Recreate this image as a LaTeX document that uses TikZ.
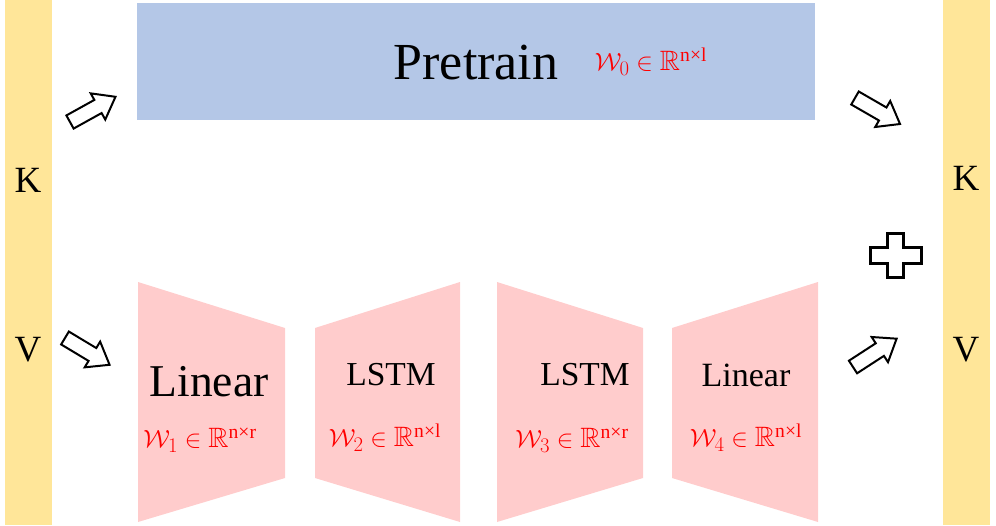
\documentclass[tikz,border=0pt]{standalone}
\usepackage{amsmath,amssymb}
\usepackage{fontspec}
\setmainfont{Liberation Serif}
\definecolor{kvyellow}{HTML}{FFE699}
\definecolor{preblue}{HTML}{B4C7E7}
\definecolor{trappink}{HTML}{FFCCCC}
\tikzset{
  bar/.style={fill=kvyellow, draw=none},
  trap/.style={fill=trappink, draw=none},
  formula/.style={text=red, font=\fontsize{28}{30}\selectfont, inner sep=0pt},
  kv/.style={font=\fontsize{37}{40}\selectfont, inner sep=0pt},
  blockarrow/.style={draw=black, line width=2pt, fill=white, line join=miter},
}
\newcommand{\mysuper}[1]{^{\text{#1}}}
\begin{document}
\begin{tikzpicture}[x=1pt,y=-1pt]
\useasboundingbox (0,0) rectangle (996,525);
% K V bars
\fill[bar] (5,0) rectangle (52,525);
\fill[bar] (943,0) rectangle (990,525);
\node[kv] (kl) at (28,180) {K};
\node[kv] (vl) at (28,350) {V};
\node[kv] (kr) at (966,178) {K};
\node[kv] (vr) at (966,350) {V};
% pretrain
\node[fill=preblue, minimum width=678pt, minimum height=117pt, inner sep=0pt] (pre) at (476,61.5) {};
\node[font=\fontsize{52}{54}\selectfont, inner sep=0pt] (pretxt) at (476,63) {Pretrain};
\node[formula] (w0) at (651,62) {$\mathcal{W}_0 \in \mathbb{R}\mysuper{n×l}$};
% trapezoids
\fill[trap] (138,282) -- (285,328) -- (285,478) -- (138,522) -- cycle;
\fill[trap] (315,328) -- (460,282) -- (460,522) -- (315,478) -- cycle;
\fill[trap] (497,282) -- (643,328) -- (643,478) -- (497,522) -- cycle;
\fill[trap] (672,328) -- (818,282) -- (818,522) -- (672,478) -- cycle;
\node[font=\fontsize{45.5}{48}\selectfont, inner sep=0pt] (lin1) at (209,382) {Linear};
\node[font=\fontsize{33.5}{36}\selectfont, inner sep=0pt] (lstm1) at (391,375) {LSTM};
\node[font=\fontsize{33.5}{36}\selectfont, inner sep=0pt] (lstm2) at (585,375) {LSTM};
\node[font=\fontsize{34}{36}\selectfont, inner sep=0pt] (lin2) at (746,375) {Linear};
\node[formula] (w1) at (200,440) {$\mathcal{W}_1 \in \mathbb{R}\mysuper{n×r}$};
\node[formula] (w2) at (385,438) {$\mathcal{W}_2 \in \mathbb{R}\mysuper{n×l}$};
\node[formula] (w3) at (572,440) {$\mathcal{W}_3 \in \mathbb{R}\mysuper{n×r}$};
\node[formula] (w4) at (746,438) {$\mathcal{W}_4 \in \mathbb{R}\mysuper{n×l}$};
% block arrows
\foreach \x/\y/\a in {70/122/29, 855/98/-30, 65/338/-31, 853/367/33}{
  \begin{scope}[shift={(\x,\y)}, rotate=\a]
    \draw[blockarrow] (0,-7.5) -- (32,-7.5) -- (32,-15) -- (52,0) -- (32,15) -- (32,7.5) -- (0,7.5) -- cycle;
  \end{scope}
}
% plus
\draw[blockarrow, line width=3pt] (887,233) -- (903,233) -- (903,247) -- (921,247) -- (921,263) -- (903,263) -- (903,277) -- (887,277) -- (887,263) -- (870,263) -- (870,247) -- (887,247) -- cycle;
\end{tikzpicture}
\end{document}
